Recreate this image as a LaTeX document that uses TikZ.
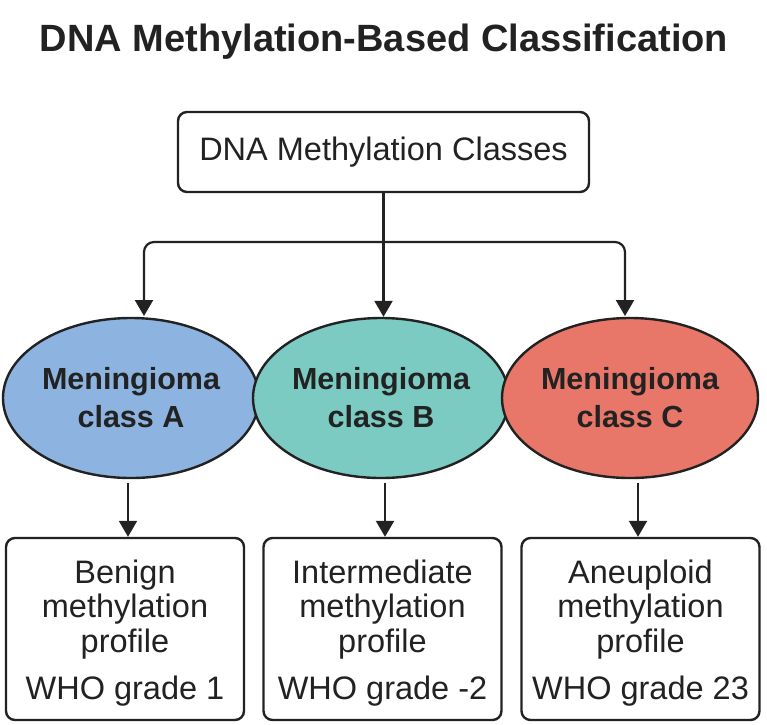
\documentclass[tikz,border=0pt]{standalone}
\usepackage{fontspec}
\setmainfont{Liberation Sans}
\usetikzlibrary{shapes.geometric,arrows.meta}
\definecolor{ink}{HTML}{222222}
\definecolor{cA}{HTML}{8DB4E0}
\definecolor{cB}{HTML}{7CCBC2}
\definecolor{cC}{HTML}{E8776A}
\newcommand{\toppad}{\rule{0pt}{32pt}}
\tikzset{
  box/.style={draw=ink, line width=2.4pt, rounded corners=9pt, fill=white, inner sep=0pt},
  ell/.style={ellipse, draw=ink, line width=2.4pt, minimum width=256pt, minimum height=160pt, inner sep=0pt,
     align=center, font=\fontsize{30.5}{38}\selectfont\bfseries, text=ink},
  leaf/.style={box, minimum width=238pt, minimum height=182pt, align=center,
     font=\fontsize{32.5}{34.5}\selectfont, text=ink},
  arr/.style={draw=ink, line width=2.2pt, -{Triangle[width=18pt,length=16pt]}},
  conn/.style={draw=ink, line width=2.2pt}
}
\begin{document}
\begin{tikzpicture}[x=1pt,y=-1pt]
\useasboundingbox (0,0) rectangle (767,724);
\node[font=\fontsize{38}{44}\selectfont\bfseries, text=ink] (title) at (384,42) {DNA Methylation-Based Classification};
\node[box, minimum width=411pt, minimum height=80pt, font=\fontsize{32.5}{36}\selectfont, text=ink] (top) at (383.5,152) {DNA Methylation Classes};
\node[ell, fill=cA] (ea) at (131,398) {Meningioma\\class A};
\node[ell, fill=cB] (eb) at (381,398) {Meningioma\\class B};
\node[ell, fill=cC] (ec) at (630,398) {Meningioma\\class C};
\node[leaf] (ba) at (125,629) {\toppad Benign\\methylation\\profile\\[13pt]WHO grade 1};
\node[leaf] (bb) at (382.5,629) {\toppad Intermediate\\methylation\\profile\\[13pt]WHO grade -2};
\node[leaf] (bc) at (640.5,629) {\toppad Aneuploid\\methylation\\profile\\[13pt]WHO grade 23};
\coordinate (barL) at (144,242);
\coordinate (barR) at (625,242);
\coordinate (ta) at (144,316);
\coordinate (tc) at (625,316);
\draw[conn] (top.south) -- (top.south |- barL);
\draw[arr, rounded corners=10pt] (top.south |- barL) -- (barL) -- (ta);
\draw[arr, rounded corners=10pt] (top.south |- barR) -- (barR) -- (tc);
\draw[arr] (top.south) -- (top.south |- eb.north);
\draw[arr, shorten <=4pt] (ea.south -| 128,0) -- (ba.north -| 128,0);
\draw[arr, shorten <=4pt] (eb.south -| 385,0) -- (bb.north -| 385,0);
\draw[arr, shorten <=4pt] (ec.south -| 638,0) -- (bc.north -| 638,0);
\end{tikzpicture}
\end{document}
